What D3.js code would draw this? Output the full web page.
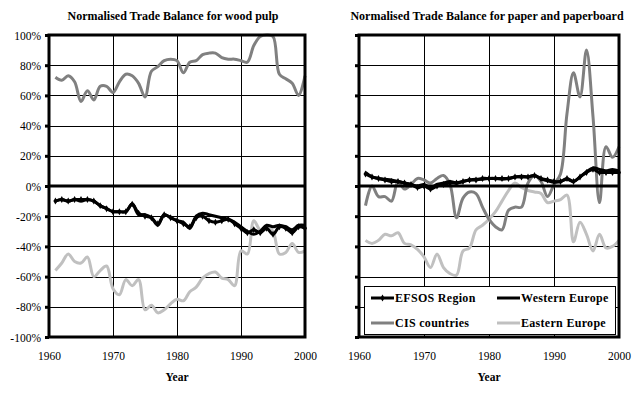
<!DOCTYPE html>
<meta charset="utf-8">
<style>
  body { margin: 0; background: #fff; }
  text { font-family: 'Liberation Serif', 'Times New Roman', serif; }
</style>
<script src="https://d3js.org/d3.v7.min.js"></script>
<body>
<svg id="chart" width="642" height="394"></svg>
<script>

// years on the x axis
var years = [1961,1962,1963,1964,1965,1966,1967,1968,1969,1970,
             1971,1972,1973,1974,1975,1976,1977,1978,1979,1980,
             1981,1982,1983,1984,1985,1986,1987,1988,1989,1990,
             1991,1992,1993,1994,1995,1996,1997,1998,1999,2000]

// wood pulp, normalised trade balance (%)
var pulpEfsos = [-10,-9,-10,-9,-9,-9,-10,-13,-15,-17,-17,-17,-12,-18,-20,-21,-25,-19,-21,-23,
                 -25,-27,-21,-20,-23,-24,-23,-22,-25,-28,-31,-29,-31,-28,-32,-27,-28,-31,-27,-28]
var pulpWestern = [-10,-9,-10,-9,-10,-9,-10,-13,-15,-17,-17,-17,-12,-19,-19,-21,-26,-19,-21,-23,
                   -24,-28,-20,-18,-19,-20,-21,-22,-24,-27,-30,-32,-30,-26,-27,-26,-27,-29,-26,-26]
var pulpCis = [72,70,73,69,56,63,57,66,66,62,69,74,73,68,59,76,79,83,84,83,
               75,82,83,87,88,88,85,84,84,83,82,93,99,100,99,74,71,68,60,73]
var pulpEastern = [-56,-51,-45,-50,-51,-47,-60,-56,-53,-68,-72,-62,-66,-62,-82,-79,-84,-82,-78,-75,
                   -76,-70,-67,-61,-58,-57,-61,-62,-66,-43,-45,-23,-29,-27,-30,-45,-44,-38,-44,-43]

// paper and paperboard, normalised trade balance (%)
var paperEfsos = [8,6,5,4,3,3,2,1,-1,0,-2,0,1,2,2,3,4,4,5,5,
                  5,5,5,6,6,6,7,5,4,3,3,5,3,6,9,11,9,9,9,9]
var paperWestern = [9,6,5,4.5,4,3,2,1,0,1,-1,1,2,3,2,3,4,4.5,4.5,5,
                    5,4.5,5,6,6.5,6,7,4.5,3.5,2.5,3,4.5,3,6,9.5,12,11,10,11,10]
var paperCis = [-13,0,-7,-7,-10,3,-2,1,5,4,2,5,7,1,-21,-8,-4,-5,-14,-22,
                -27,-29,-16,-14,-14,2,7,3,-7,1,8,48,75,59,90,46,-11,26,19,26]
var paperEastern = [-36,-38,-36,-32,-33,-31,-38,-39,-42,-47,-54,-45,-54,-58,-59,-43,-41,-29,-26,-22,
                    -17,-10,-3,2,-1,-3,-4,-5,-11,-10,-9,-6,-37,-24,-32,-43,-32,-41,-40,-36]

var xTicks = [1960, 1970, 1980, 1990, 2000]
var yTicks = [-100, -80, -60, -40, -20, 0, 20, 40, 60, 80, 100]

var seriesNames = ["EFSOS Region", "Western Europe", "CIS countries", "Eastern Europe"]
var seriesColors = ["#000000", "#000000", "#808080", "#c0c0c0"]

var svg = d3.select("#chart")

svg.append("rect").attr("width", 642).attr("height", 394).attr("fill", "#fff")

function panel(left, right, title, values, showLabels, showLegend, titleShift) {
  var top = 35, bottom = 337

  var x = d3.scaleLinear().domain([1960, 2000]).range([left, right])
  var y = d3.scaleLinear().domain([-100, 100]).range([bottom, top])

  var g = svg.append("g")

  // grid
  g.selectAll(".vgrid")
    .data(xTicks.slice(1, -1))
    .enter().append("line")
    .attr("x1", d => Math.round(x(d)) + 0.5).attr("x2", d => Math.round(x(d)) + 0.5)
    .attr("y1", top).attr("y2", bottom)
    .attr("stroke", "#000").attr("stroke-width", 1)
    .attr("shape-rendering", "crispEdges")

  g.selectAll(".hgrid")
    .data(yTicks.slice(1, -1))
    .enter().append("line")
    .attr("x1", left).attr("x2", right)
    .attr("y1", d => Math.round(y(d)) + 0.5).attr("y2", d => Math.round(y(d)) + 0.5)
    .attr("stroke", "#000").attr("stroke-width", 1)
    .attr("shape-rendering", "crispEdges")

  // y axis ticks (outside) and labels
  var yAxis = d3.axisLeft(y).tickValues(yTicks).tickSize(4)
    .tickFormat(d => showLabels ? d + "%" : "")
  var ya = g.append("g").attr("transform", "translate(" + left + ",0)").call(yAxis)
  ya.select(".domain").remove()
  ya.selectAll("line").attr("stroke-width", 3).attr("stroke", "#000")
  ya.selectAll("text").attr("x", -8).attr("dy", "0.35em")
    .style("font-family", "'Liberation Serif', serif").style("font-size", "11.5px").attr("fill", "#000")

  // x labels
  var xAxis = d3.axisBottom(x).tickValues(xTicks).tickSize(0).tickFormat(d3.format("d"))
  var xa = g.append("g").attr("transform", "translate(0," + bottom + ")").call(xAxis)
  xa.select(".domain").remove()
  xa.selectAll("text").attr("y", 19).attr("dy", "0.35em")
    .style("font-family", "'Liberation Serif', serif").style("font-size", "11.5px").attr("fill", "#000")

  // series lines
  var line = d3.line()
    .x((d, i) => x(years[i]))
    .y(d => y(d))
    .curve(d3.curveCatmullRom.alpha(0.5))

  var order = [3, 2, 1, 0]
  order.forEach(function(k) {
    g.append("path")
      .datum(values[k])
      .attr("d", line)
      .attr("fill", "none")
      .attr("stroke", seriesColors[k])
      .attr("stroke-width", 3)
      .attr("stroke-linejoin", "round")
  })

  // EFSOS markers
  g.selectAll(".mark")
    .data(values[0])
    .enter().append("path")
    .attr("d", d3.symbol().type(d3.symbolDiamond).size(14))
    .attr("transform", (d, i) => "translate(" + x(years[i]) + "," + y(d) + ")")
    .attr("fill", "#000")

  // zero line and frame
  g.append("line")
    .attr("x1", left).attr("x2", right).attr("y1", y(0)).attr("y2", y(0))
    .attr("stroke", "#000").attr("stroke-width", 3)
  g.append("rect")
    .attr("x", left).attr("y", top).attr("width", right - left).attr("height", bottom - top)
    .attr("fill", "none").attr("stroke", "#000").attr("stroke-width", 3)

  // titles
  svg.append("text")
    .attr("x", (left + right) / 2 + titleShift).attr("y", 20)
    .attr("text-anchor", "middle")
    .style("font-weight", "bold").style("font-size", "12px")
    .text(title)
  svg.append("text")
    .attr("x", (left + right) / 2).attr("y", 381)
    .attr("text-anchor", "middle")
    .style("font-weight", "bold").style("font-size", "11.5px")
    .text("Year")

  if (showLegend) {
    var lg = svg.append("g")
    lg.append("rect")
      .attr("x", 364.5).attr("y", 286.5).attr("width", 251).attr("height", 48)
      .attr("fill", "#fff").attr("stroke", "#000").attr("stroke-width", 1)
    var cols = [371, 497], rows = [298, 323]
    seriesNames.forEach(function(name, i) {
      var cx = cols[i % 2], cy = rows[Math.floor(i / 2)]
      lg.append("line")
        .attr("x1", cx).attr("x2", cx + 23).attr("y1", cy).attr("y2", cy)
        .attr("stroke", seriesColors[i]).attr("stroke-width", 3)
      if (i == 0) {
        lg.append("path")
          .attr("d", d3.symbol().type(d3.symbolDiamond).size(14))
          .attr("transform", "translate(" + (cx + 11.5) + "," + cy + ")")
      }
      lg.append("text")
        .attr("x", cx + 24).attr("y", cy).attr("dy", "0.35em")
        .style("font-weight", "bold").style("font-size", "12px")
        .style("letter-spacing", "0.3px")
        .text(name)
    })
  }
}

panel(49, 305, "Normalised Trade Balance for wood pulp",
      [pulpEfsos, pulpWestern, pulpCis, pulpEastern], true, false, -4)
panel(359, 619, "Normalised Trade Balance for paper and paperboard",
      [paperEfsos, paperWestern, paperCis, paperEastern], false, true, -2)

</script>
</body>
